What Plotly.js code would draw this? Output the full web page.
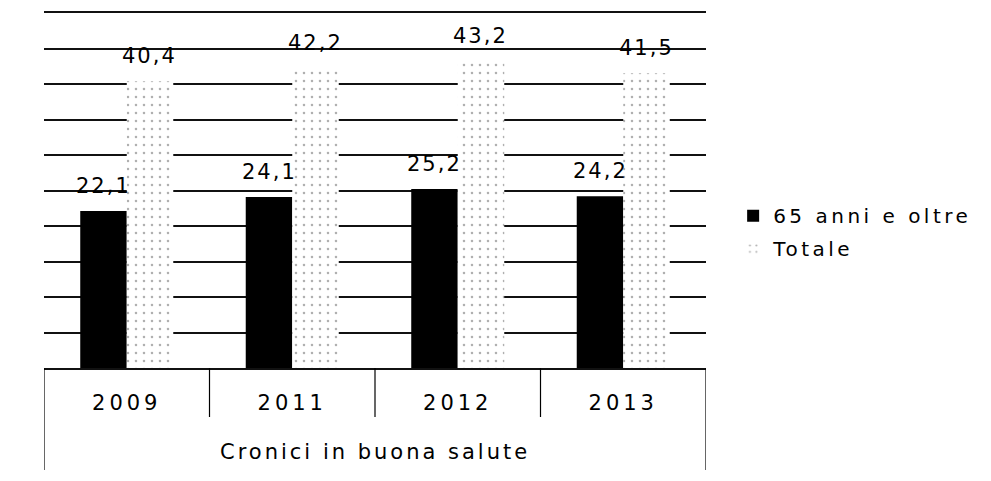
<!DOCTYPE html>
<html>
<head>
<meta charset="utf-8">
<script src="https://cdn.plot.ly/plotly-3.0.1.min.js"></script>
<style>html,body{margin:0;padding:0;background:#fff;}</style>
</head>
<body>
<div id="chart" style="width:991px;height:481px;"></div>
<script>
// ---- data ----
var years = ['2009', '2011', '2012', '2013'];
var seriesNames = ['65 anni e oltre', 'Totale'];
var anziani = [22.1, 24.1, 25.2, 24.2];
var totale = [40.4, 42.2, 43.2, 41.5];
var groupLabel = 'Cronici in buona salute';

var FONT = 'DejaVu Sans, Verdana, sans-serif';
function sp(t, px) { return '<span style="letter-spacing:' + px + 'px">' + t + '</span>'; }
function fmt(v) { return v.toFixed(1).replace('.', ','); }

var traces = [
  {
    type: 'bar', x: years, y: anziani, name: sp(seriesNames[0], 3.5),
    legendgroup: 'a',
    marker: { color: '#000000', line: { width: 0 } },
    hoverinfo: 'skip'
  },
  {
    type: 'bar', x: years, y: totale, name: sp(seriesNames[1], 3.5),
    legendgroup: 'b',
    marker: {
      color: '#ffffff',
      line: { width: 0 },
      pattern: { shape: '.', fgcolor: '#b0b0b0', bgcolor: '#ffffff', size: 8, solidity: 0.08 }
    },
    hoverinfo: 'skip'
  }
];

var annotations = [];
var n = years.length;
years.forEach(function (yr, i) {
  // category axis: position by category index (year strings look numeric)
  annotations.push({ x: i, y: anziani[i], xref: 'x', yref: 'y', text: sp(fmt(anziani[i]), 2),
    showarrow: false, xanchor: 'center', yanchor: 'bottom', xshift: -23, yshift: 11,
    font: { family: FONT, size: 21, color: '#000' } });
  annotations.push({ x: i, y: totale[i], xref: 'x', yref: 'y', text: sp(fmt(totale[i]), 2),
    showarrow: false, xanchor: 'center', yanchor: 'bottom', xshift: 23, yshift: 11,
    font: { family: FONT, size: 21, color: '#000' } });
});
annotations.push({ x: 0.5, y: 0, xref: 'paper', yref: 'paper', text: sp(groupLabel, 3),
  showarrow: false, xanchor: 'center', yanchor: 'middle', yshift: -84,
  font: { family: FONT, size: 21, color: '#000' } });

// table lines under the category axis
var shapes = [];
for (var k = 0; k <= n; k++) {
  var outer = (k === 0 || k === n);
  shapes.push({ type: 'line', xref: 'x', yref: 'paper', x0: k - 0.5, x1: k - 0.5,
    y0: 0, y1: outer ? -0.287 : -0.138, line: { color: '#000', width: 1.2 } });
}

var layout = {
  width: 991, height: 481,
  margin: { l: 44, r: 285, t: 13, b: 113 },
  paper_bgcolor: '#fff', plot_bgcolor: '#fff',
  barmode: 'group', bargap: 0.438, bargroupgap: 0,
  font: { family: FONT, size: 21, color: '#000' },
  xaxis: {
    type: 'category', categoryorder: 'array', categoryarray: years,
    range: [-0.5, n - 0.5], autorange: false,
    showgrid: false, zeroline: false,
    showline: true, mirror: true, linecolor: '#111', linewidth: 2,
    ticks: '', tickvals: years, ticktext: years.map(function (y) { return sp(y, 4); }),
    ticklabelstandoff: 15,
    tickfont: { family: FONT, size: 21, color: '#000' },
    fixedrange: true
  },
  yaxis: {
    range: [0, 50], autorange: false, dtick: 5, tick0: 0, showgrid: true, gridcolor: '#111', gridwidth: 2,
    zeroline: false, showticklabels: false, ticks: '', fixedrange: true
  },
  showlegend: true,
  legend: {
    x: 1.041, xanchor: 'left', y: 0.484, yanchor: 'top',
    font: { family: FONT, size: 20, color: '#000' },
    tracegroupgap: 4, bgcolor: 'rgba(0,0,0,0)', traceorder: 'grouped'
  },
  annotations: annotations,
  shapes: shapes
};

Plotly.newPlot('chart', traces, layout, { displayModeBar: false, staticPlot: true });
</script>
</body>
</html>
